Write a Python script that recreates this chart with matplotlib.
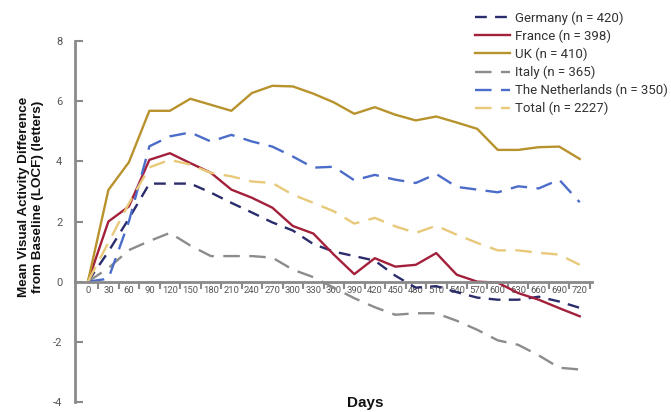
import matplotlib
matplotlib.use("Agg")
import matplotlib.pyplot as plt
import numpy as np

days = [0, 30, 60, 90, 120, 150, 180, 210, 240, 270, 300, 330, 360, 390, 420,
        450, 480, 510, 540, 570, 600, 630, 660, 690, 720]
day_labels = [str(d) for d in days]

germany = [0, 1.0, 2.1, 3.26, 3.26, 3.26, 2.96, 2.62, 2.3, 1.97, 1.7, 1.25, 1.0,
           0.85, 0.7, 0.2, -0.2, -0.15, -0.35, -0.53, -0.6, -0.6, -0.5, -0.66, -0.87]
france = [0, 2.0, 2.5, 4.05, 4.27, 3.94, 3.62, 3.06, 2.79, 2.46, 1.85, 1.6, 0.9,
          0.25, 0.78, 0.5, 0.56, 0.95, 0.23, 0.0, -0.03, -0.38, -0.6, -0.88, -1.15]
uk = [0, 3.05, 3.97, 5.68, 5.68, 6.08, 5.88, 5.68, 6.27, 6.51, 6.49, 6.25, 5.96,
      5.58, 5.8, 5.55, 5.36, 5.49, 5.29, 5.08, 4.38, 4.38, 4.47, 4.49, 4.08]
italy = [0, 0.45, 1.05, 1.35, 1.62, 1.2, 0.85, 0.85, 0.85, 0.8, 0.4, 0.15, -0.2,
         -0.55, -0.85, -1.1, -1.05, -1.05, -1.3, -1.6, -1.95, -2.1, -2.45, -2.86, -2.92]
netherlands = [0, 0.1, 2.0, 4.5, 4.83, 4.96, 4.66, 4.88, 4.66, 4.49, 4.16, 3.79, 3.82,
               3.37, 3.55, 3.39, 3.28, 3.58, 3.15, 3.06, 2.97, 3.17, 3.10, 3.39, 2.64]
total = [0, 1.3, 2.6, 3.8, 4.05, 3.89, 3.62, 3.5, 3.33, 3.28, 2.89, 2.62, 2.34,
         1.93, 2.12, 1.84, 1.62, 1.86, 1.56, 1.29, 1.04, 1.04, 0.96, 0.9, 0.56]

series_names = ["Germany (n = 420)", "France (n = 398)", "UK (n = 410)",
                "Italy (n = 365)", "The Netherlands (n = 350)", "Total (n = 2227)"]
series_values = [germany, france, uk, italy, netherlands, total]
colors = ["#2b2c6c", "#a3203b", "#b8922c", "#8c8c8c", "#4b6cc9", "#e8c97a"]
styles = [(0, (5, 3.5)), "-", "-", (0, (7, 4)), (0, (7, 4)), (0, (7, 4))]

fig = plt.figure(figsize=(6.71, 4.12), dpi=100)
ax = fig.add_axes([75 / 671, 1 - 402 / 412, (592 - 75) / 671, (402 - 41) / 412])

x = np.arange(len(days))
for name, vals, c, ls in zip(series_names, series_values, colors, styles):
    ax.plot(x, vals, color=c, linestyle=ls, linewidth=1.7, label=name)

ax.set_xlim(-0.63, 24.6)
ax.set_ylim(-4, 8)

spine_color = "#8a8a8a"
for s in ["top", "right"]:
    ax.spines[s].set_visible(False)
ax.spines["bottom"].set_position(("data", 0))
ax.spines["bottom"].set_color(spine_color)
ax.spines["left"].set_color(spine_color)
ax.spines["bottom"].set_linewidth(2)
ax.spines["left"].set_linewidth(2)

ax.set_xticks(x)
ax.set_xticklabels(day_labels, fontsize=6.8, color="#555555", family="Roboto")
ax.tick_params(axis="x", which="major", length=0, pad=3)
ax.set_xticks(x + 0.5, minor=True)
ax.tick_params(axis="x", which="minor", length=5, width=1.5, color=spine_color, direction="out")

ax.set_yticks([-4, -2, 0, 2, 4, 6, 8])
ax.set_yticklabels(["-4", "-2", "0", "2", "4", "6", "8"], fontsize=8, color="#555555", family="Roboto")
ax.tick_params(axis="y", length=6, width=1.5, color=spine_color, direction="in", pad=9)

fig.text(0.046, 1 - 197 / 412, "Mean Visual Activity Difference\nfrom Baseline (LOCF) (letters)",
         rotation=90, ha="center", va="center", fontsize=9.7, fontweight="bold",
         family="Liberation Sans", multialignment="center", color="#111111")
fig.text(365 / 671, 1 - 403 / 412, "Days", ha="center", va="center", fontsize=11,
         fontweight="bold", family="Liberation Sans", color="#111111")

leg = ax.legend(loc="upper left", bbox_to_anchor=(470 / 671, 1 - 6 / 412),
                bbox_transform=fig.transFigure, frameon=False,
                handlelength=2.6, handletextpad=0.4, labelspacing=0.36,
                borderaxespad=0, prop={"family": "Roboto", "size": 9.5})
for t in leg.get_texts():
    t.set_color("#333333")

fig.savefig("out.png", dpi=100)
